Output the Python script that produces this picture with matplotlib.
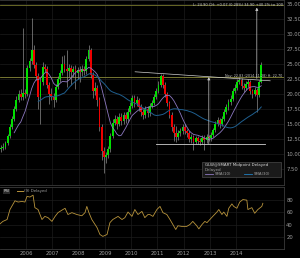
import matplotlib
matplotlib.use("Agg")
import matplotlib.pyplot as plt
from matplotlib.patches import Rectangle
import numpy as np
import pandas as pd

# monthly candles, Jan 2005 .. Dec 2014
opens = [10.8, 11.0, 11.2, 11.8, 13.0, 14.5, 15.8, 17.5, 19.0, 20.0, 19.5, 20.2,
         20.0, 24.3, 25.5, 27.3, 24.8, 23.0, 19.5, 22.0, 24.5, 24.2, 21.5, 20.0,
         19.5, 19.0, 21.2, 22.5, 23.5, 25.0, 24.2, 23.8, 24.3, 23.6, 24.2, 23.5,
         24.0, 23.6, 24.2, 23.8, 25.8, 27.3, 23.2, 20.5, 21.0, 19.0, 14.5, 10.5,
         9.5, 9.8, 10.8, 13.0, 15.2, 15.8, 15.0, 16.2, 15.5, 16.5, 15.8, 17.0,
         18.0, 19.3, 18.5, 19.0, 17.8, 17.0, 16.5, 17.5, 16.8, 18.0, 18.5, 19.5,
         20.5, 21.5, 23.0, 21.5, 20.0, 18.5, 16.5, 14.5, 13.5, 12.8, 13.5, 13.8,
         14.5, 13.8, 13.5, 12.5, 12.8, 12.0, 12.6, 12.2, 12.0, 12.6, 12.3, 12.8,
         12.6, 13.2, 14.0, 15.0, 15.6, 15.0, 15.8, 17.0, 17.8, 18.6, 19.2, 20.5,
         21.0, 22.0, 22.3, 21.3, 21.0, 21.6, 22.0, 20.5, 20.0, 20.6, 19.8, 22.0]
closes = [11.0, 11.2, 11.8, 13.0, 14.5, 15.8, 17.5, 19.0, 20.0, 19.5, 20.2, 20.0,
          24.3, 25.5, 27.3, 24.8, 23.0, 19.5, 22.0, 24.5, 24.2, 21.5, 20.0, 19.5,
          19.0, 21.2, 22.5, 23.5, 25.0, 24.2, 23.8, 24.3, 23.6, 24.2, 23.5, 24.0,
          23.6, 24.2, 23.8, 25.8, 27.3, 23.2, 20.5, 21.0, 19.0, 14.5, 10.5, 9.5,
          9.8, 10.8, 13.0, 15.2, 15.8, 15.0, 16.2, 15.5, 16.5, 15.8, 17.0, 18.0,
          19.3, 18.5, 19.0, 17.8, 17.0, 16.5, 17.5, 16.8, 18.0, 18.5, 19.5, 20.5,
          21.5, 23.0, 21.5, 20.0, 18.5, 16.5, 14.5, 13.5, 12.8, 13.5, 13.8, 14.5,
          13.8, 13.5, 12.5, 12.8, 12.0, 12.6, 12.2, 12.0, 12.6, 12.3, 12.8, 12.6,
          13.2, 14.0, 15.0, 15.6, 15.0, 15.8, 17.0, 17.8, 18.6, 19.2, 20.5, 21.0,
          22.0, 22.3, 21.3, 21.0, 21.6, 22.0, 20.5, 20.0, 20.6, 19.8, 22.0, 24.9]
highs = [11.5, 11.8, 12.2, 13.4, 15.0, 16.3, 18.0, 19.6, 20.6, 20.8, 31.0, 20.8,
         24.8, 26.0, 32.6, 28.2, 25.3, 23.5, 22.6, 25.3, 25.0, 24.6, 22.0, 21.0,
         20.2, 21.6, 23.0, 24.0, 26.3, 26.5, 27.3, 25.0, 24.8, 24.7, 24.9, 24.5,
         24.6, 24.8, 24.6, 26.3, 28.2, 27.6, 23.6, 22.0, 21.5, 19.5, 15.0, 11.2,
         10.4, 11.3, 13.5, 15.8, 16.5, 16.4, 16.8, 16.8, 17.0, 17.0, 17.6, 18.6,
         19.9, 19.8, 19.6, 19.4, 18.3, 17.5, 18.0, 18.0, 18.5, 19.0, 20.0, 21.0,
         22.2, 23.4, 23.3, 22.0, 20.4, 18.9, 17.0, 15.0, 14.6, 14.0, 14.4, 15.0,
         15.0, 14.2, 13.9, 13.3, 13.2, 13.0, 13.0, 12.7, 13.1, 13.2, 13.3, 13.2,
         13.6, 14.4, 15.5, 16.1, 16.0, 16.3, 17.5, 18.4, 19.1, 19.8, 21.0, 21.6,
         22.5, 22.9, 22.6, 21.8, 22.2, 22.5, 22.3, 20.9, 21.2, 21.0, 22.4, 25.3]
lows = [10.3, 10.6, 10.9, 11.5, 12.7, 14.2, 15.5, 17.2, 18.6, 19.0, 19.0, 19.4,
        19.6, 23.8, 25.0, 24.3, 22.4, 17.5, 15.0, 21.5, 23.6, 21.0, 18.3, 19.0,
        17.8, 18.6, 20.8, 22.0, 23.2, 23.6, 21.2, 22.8, 21.5, 22.8, 20.8, 22.5,
        22.0, 23.0, 23.2, 23.4, 25.5, 22.6, 19.4, 19.8, 18.0, 13.8, 9.0, 6.8,
        8.5, 9.3, 10.4, 12.6, 14.8, 14.2, 14.6, 14.8, 15.0, 15.2, 15.4, 16.6,
        17.6, 17.8, 18.0, 17.2, 16.3, 15.8, 16.0, 16.2, 16.4, 17.6, 18.2, 19.2,
        20.2, 21.2, 21.0, 19.5, 18.0, 16.0, 13.8, 12.2, 12.0, 12.3, 13.0, 13.4,
        13.3, 12.9, 12.0, 11.9, 10.7, 11.6, 11.7, 11.5, 11.6, 10.7, 11.9, 12.1,
        12.2, 12.9, 13.7, 14.7, 14.4, 14.6, 15.5, 16.6, 17.4, 18.2, 18.9, 20.1,
        20.6, 21.6, 20.8, 20.4, 20.6, 21.2, 20.0, 19.4, 19.6, 17.0, 19.5, 21.8]

# RSI(9)
rsi_t = [2005.00, 2005.11, 2005.27, 2005.38, 2005.57, 2005.69, 2005.84, 2005.95,
         2006.03, 2006.14, 2006.26, 2006.33, 2006.45, 2006.60, 2006.71, 2006.83,
         2006.98, 2007.10, 2007.21, 2007.36, 2007.48, 2007.59, 2007.74, 2007.93,
         2008.12, 2008.24, 2008.31, 2008.39, 2008.50, 2008.70, 2008.81, 2008.92,
         2009.08, 2009.19, 2009.30, 2009.50, 2009.65, 2009.76, 2009.88, 2010.03,
         2010.14, 2010.26, 2010.41, 2010.52, 2010.64, 2010.71, 2010.83, 2010.98,
         2011.10, 2011.21, 2011.36, 2011.48, 2011.59, 2011.70, 2011.78, 2011.93,
         2012.12, 2012.24, 2012.35, 2012.50, 2012.58, 2012.70, 2012.81, 2012.89,
         2013.00, 2013.11, 2013.27, 2013.34, 2013.46, 2013.53, 2013.65, 2013.72,
         2013.84, 2013.91, 2014.03, 2014.14, 2014.26, 2014.41, 2014.45, 2014.60,
         2014.71, 2014.83, 2014.98, 2015.02]
rsi_v = [41, 45, 48, 64, 78, 76, 77, 76,
         85, 84, 87, 67, 64, 48, 53, 51,
         45, 53, 59, 63, 66, 56, 59, 56,
         54, 59, 69, 59, 48, 35, 24, 21,
         24, 43, 48, 53, 48, 51, 60, 53,
         64, 56, 61, 51, 56, 56, 53, 64,
         69, 59, 56, 48, 40, 32, 38, 37,
         37, 40, 45, 38, 33, 40, 45, 43,
         48, 53, 60, 64, 56, 60, 53, 66,
         73, 69, 66, 76, 80, 79, 64, 67,
         58, 64, 69, 74]

years = [2006, 2007, 2008, 2009, 2010, 2011, 2012, 2013, 2014]
price_ticks = [7.5, 10, 12.5, 15, 17.5, 20, 22.5, 25, 27.5, 30, 32.5, 35]
rsi_ticks = [20, 40, 60, 80]

neckline = 22.83
target = 34.83
support = 11.67

bg = "black"
grid_c = "#1c1c1c"
lab_c = "#a0a0a0"
fs = 3.8

t = 2005 + (np.arange(len(closes)) + 0.5) / 12
c = np.array(closes)
o = np.array(opens)
sma10 = pd.Series(closes).rolling(10, min_periods=7).mean()
sma30 = pd.Series(closes).rolling(30, min_periods=18).mean()

fig = plt.figure(figsize=(3.0, 2.58), dpi=100, facecolor=bg)
ax = fig.add_axes([0, 0.283, 0.947, 0.717], facecolor=bg)
ax2 = fig.add_axes([0, 0.033, 0.947, 0.242], facecolor=bg)

for a in (ax, ax2):
    a.set_xlim(2005.0, 2015.83)
    a.set_xticks(years)
    a.grid(True, color=grid_c, lw=0.5)
    a.set_axisbelow(True)
    a.yaxis.tick_right()
    a.tick_params(colors=lab_c, labelsize=fs, length=0, pad=1.5)
    for s in a.spines.values():
        s.set_color("#3a3a3a")
        s.set_linewidth(0.6)
    a.spines["left"].set_visible(False)

# price pane
ax.set_ylim(4.83, 35.67)
ax.set_yticks(price_ticks)
ax.set_yticklabels(["%.2f" % v for v in price_ticks])
ax.set_xticklabels([])

up = c >= o
ax.vlines(t, lows, highs, color="#8c8c8c", lw=0.5, zorder=2)
body = np.maximum(np.abs(c - o), 0.15)
ax.bar(t[up], body[up], bottom=np.minimum(o, c)[up], width=0.07,
       color="#00e000", zorder=3)
ax.bar(t[~up], body[~up], bottom=np.minimum(o, c)[~up], width=0.07,
       color="#ee0000", zorder=3)

ax.plot(t, sma10, color="#8c78c0", lw=0.6, zorder=4)
ax.plot(t, sma30, color="#1f5f8f", lw=0.7, zorder=4)

# drawings
ax.axhline(target, color="#77772a", lw=0.6, zorder=1)
ax.axhline(neckline, color="#8a8a3a", lw=0.6, zorder=1)
ax.plot([2010.15, 2015.3], [23.7, 22.2], color="#d0d0d0", lw=0.5, zorder=5)
ax.plot([2010.95, 2015.1], [support, support], color="#d0d0d0", lw=0.6, zorder=5)
ax.annotate("", xy=(2012.96, neckline), xytext=(2012.96, support),
            arrowprops=dict(arrowstyle="-|>", color="#c8c8c8", lw=0.5,
                            mutation_scale=4, shrinkA=0, shrinkB=0), zorder=5)
ax.annotate("", xy=(2014.79, 34.4), xytext=(2014.79, 22.6),
            arrowprops=dict(arrowstyle="-|>", color="#c8c8c8", lw=0.5,
                            mutation_scale=4, shrinkA=0, shrinkB=0), zorder=5)
ax.text(0.995, 0.985, "L: 24.90 CH: +0.07 (0.28%) 34.90 +40.2% to 100",
        transform=ax.transAxes, ha="right", va="top", color="#c8c8c8",
        fontsize=2.6)
ax.text(0.995, 0.59, "Nov: 22.83 (2014-11-28) H: 22.70",
        transform=ax.transAxes, ha="right", va="center", color="#c8c8c8",
        fontsize=2.4)

# legend box
ax.add_patch(Rectangle((0.712, 0.043), 0.276, 0.082, transform=ax.transAxes,
                       facecolor="#1a1a1a", edgecolor="#4a4a4a", lw=0.5,
                       zorder=6))
ax.text(0.72, 0.107, "GLW@SMART Midpoint Delayed", transform=ax.transAxes,
        color="#d8d8d8", fontsize=2.9, va="center", zorder=7)
ax.text(0.72, 0.081, "Delayed", transform=ax.transAxes,
        color="#a0a0a0", fontsize=2.9, va="center", zorder=7)
ax.plot([0.722, 0.75], [0.057, 0.057], transform=ax.transAxes,
        color="#8c78c0", lw=0.6, zorder=7)
ax.text(0.755, 0.057, "SMA(10)", transform=ax.transAxes,
        color="#a0a0a0", fontsize=2.8, va="center", zorder=7)
ax.plot([0.86, 0.888], [0.057, 0.057], transform=ax.transAxes,
        color="#1f7fbf", lw=0.6, zorder=7)
ax.text(0.893, 0.057, "SMA(30)", transform=ax.transAxes,
        color="#a0a0a0", fontsize=2.8, va="center", zorder=7)

# RSI pane
ax2.set_ylim(0, 100)
ax2.set_yticks(rsi_ticks)
ax2.set_xticklabels([str(y) for y in years])
ax2.tick_params(axis="x", pad=1.2)
ax2.plot(rsi_t, rsi_v, color="#b8943c", lw=0.6)
ax2.text(0.012, 0.93, "RSI", transform=ax2.transAxes, color="#d0d0d0",
         fontsize=2.8, va="center",
         bbox=dict(boxstyle="square,pad=0.2", fc="#2a2a2a", ec="none"))
ax2.plot([0.06, 0.08], [0.93, 0.93], transform=ax2.transAxes,
         color="#b8943c", lw=0.7)
ax2.text(0.083, 0.93, "(9) Delayed", transform=ax2.transAxes,
         color="#a0a0a0", fontsize=2.8, va="center")

fig.savefig("out.png", dpi=100, facecolor=bg)
